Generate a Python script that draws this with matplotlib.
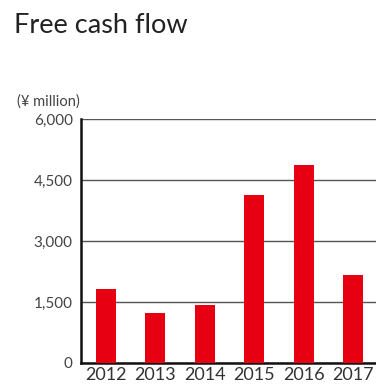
import matplotlib
matplotlib.use("Agg")
from matplotlib import pyplot as plt
import numpy as np

# free cash flow by fiscal year
years = ["2012", "2013", "2014", "2015", "2016", "2017"]
cash_flow = [1820, 1230, 1430, 4130, 4870, 2160]
y_ticks = [0, 1500, 3000, 4500, 6000]
y_labels = ["0", "1,500", "3,000", "4,500", "6,000"]

plt.rcParams['font.family'] = ['Lato', 'DejaVu Sans']

fig = plt.figure(figsize=(3.76, 3.88), dpi=100)
ax = fig.add_axes([81 / 376, 25 / 388, 1 - 81 / 376, 244 / 388])

x = np.arange(len(years))
ax.bar(x, cash_flow, width=0.405, color="#e60012", zorder=3)

ax.set_xlim(-0.506, 5.466)
ax.set_ylim(0, 6000)
ax.set_yticks(y_ticks)
ax.set_yticklabels(y_labels, fontsize=11, color="#444444")
ax.set_xticks(x)
ax.set_xticklabels(years, fontsize=13, color="#333333")
ax.tick_params(axis="y", length=0, pad=6)
ax.tick_params(axis="x", length=0, pad=3)

ax.grid(axis="y", color="#555555", linewidth=1.0, zorder=0)
for side in ["top", "right"]:
    ax.spines[side].set_visible(False)
for side in ["left", "bottom"]:
    ax.spines[side].set_linewidth(1.8)
    ax.spines[side].set_color("#111111")

fig.text(14 / 376, 1 - 33 / 388, "Free cash flow", fontsize=19.5, color="#222222",
         ha="left", va="baseline")
fig.text(80 / 376, 1 - 106 / 388, "(¥ million)", fontsize=10.5, color="#444444",
         ha="right", va="baseline")

fig.savefig("out.png", dpi=100)
